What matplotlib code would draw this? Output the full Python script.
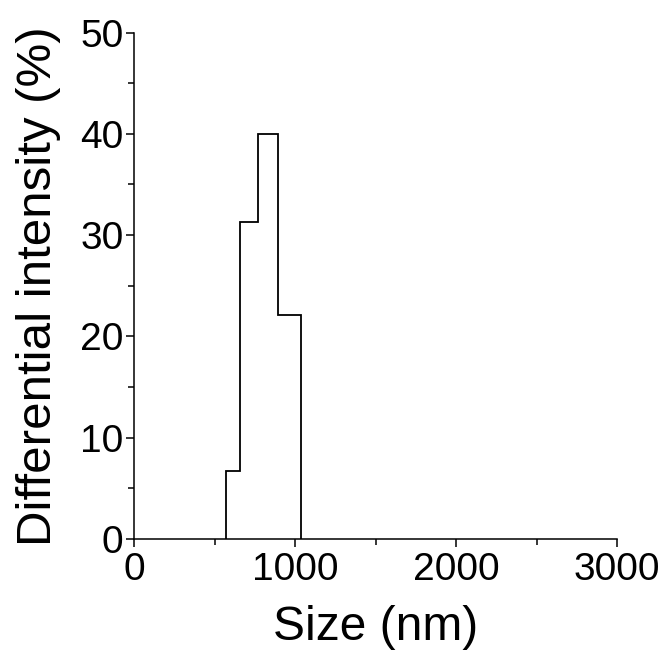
import matplotlib
matplotlib.use("Agg")
import matplotlib.pyplot as plt
from matplotlib.ticker import MultipleLocator

bin_edges = [570, 660, 768, 894, 1038]
intensity = [6.7, 31.3, 40.0, 22.1]

plt.rcParams['font.family'] = ['Liberation Sans', 'DejaVu Sans']

fig = plt.figure(figsize=(6.65, 6.52), dpi=100)
ax = fig.add_axes([0.2015, 0.1735, 0.7265, 0.7765])

ax.stairs(intensity, bin_edges, baseline=0, fill=False, color='black', linewidth=1.3)

ax.set_xlim(0, 3000)
ax.set_ylim(0, 50)
ax.xaxis.set_major_locator(MultipleLocator(1000))
ax.xaxis.set_minor_locator(MultipleLocator(500))
ax.yaxis.set_major_locator(MultipleLocator(10))
ax.yaxis.set_minor_locator(MultipleLocator(5))

for s in ['top', 'right']:
    ax.spines[s].set_visible(False)
for s in ['left', 'bottom']:
    ax.spines[s].set_linewidth(1.1)

ax.tick_params(which='major', direction='out', length=5.5, width=1.1, labelsize=28)
ax.tick_params(which='minor', direction='out', length=4, width=1.1)
ax.tick_params(axis='x', which='major', pad=4)
ax.tick_params(axis='y', which='major', pad=2)

ax.set_xlabel('Size (nm)', fontsize=34.5, labelpad=12)
ax.set_ylabel('Differential intensity (%)', fontsize=35.5, labelpad=14)

fig.savefig('out.png', dpi=100)
